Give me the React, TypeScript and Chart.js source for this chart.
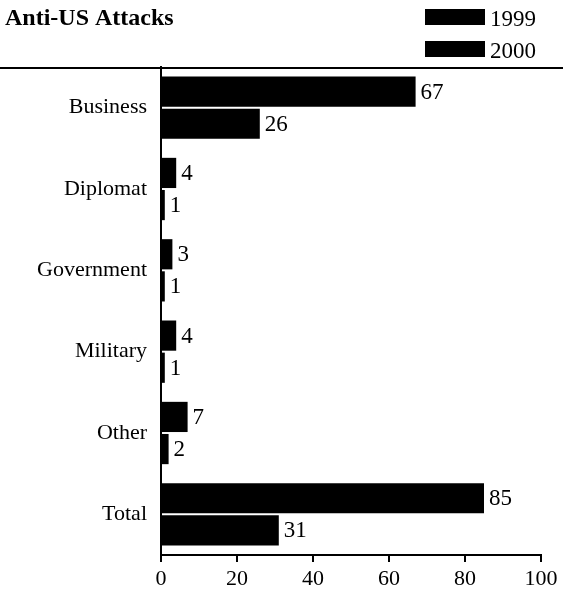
import React, { useEffect, useRef } from "react";
import { Chart, registerables } from "chart.js";

Chart.register(...registerables);

const categories = ["Business", "Diplomat", "Government", "Military", "Other", "Total"];
const values1999 = [67, 4, 3, 4, 7, 85];
const values2000 = [26, 1, 1, 1, 2, 31];
const seriesLabels = ["1999", "2000"];
const xTicks = [0, 20, 40, 60, 80, 100];
const titleText = "Anti-US Attacks";

const SERIF = "'Liberation Serif', 'Times New Roman', serif";

const decorPlugin = {
  id: "decor",
  afterDraw(chart: any) {
    const ctx = chart.ctx;
    ctx.save();
    // title
    ctx.fillStyle = "#000";
    ctx.font = `bold 24px ${SERIF}`;
    ctx.textBaseline = "alphabetic";
    ctx.textAlign = "left";
    ctx.fillText(titleText, 5, 25);
    // legend
    ctx.font = `23px ${SERIF}`;
    seriesLabels.forEach((lab, i) => {
      const y = 9 + i * 32;
      ctx.fillStyle = "#000";
      ctx.fillRect(425, y, 60, 16);
      ctx.fillText(lab, 490, y + 17);
    });
    // rule
    ctx.strokeStyle = "#000";
    ctx.lineWidth = 2;
    ctx.beginPath();
    ctx.moveTo(0, 68);
    ctx.lineTo(chart.width, 68);
    ctx.stroke();
    // value labels
    ctx.font = `23px ${SERIF}`;
    ctx.textBaseline = "middle";
    ctx.textAlign = "left";
    chart.data.datasets.forEach((ds: any, di: number) => {
      const meta = chart.getDatasetMeta(di);
      meta.data.forEach((bar: any, i: number) => {
        ctx.fillText(String(ds.data[i]), bar.x + 5, bar.y + 1);
      });
    });
    ctx.restore();
  },
};

export default function App() {
  const ref = useRef<HTMLCanvasElement | null>(null);
  useEffect(() => {
    document.body.style.margin = "0";
    const chart = new Chart(ref.current!, {
      type: "bar",
      data: {
        labels: categories,
        datasets: [
          { label: seriesLabels[0], data: values1999, backgroundColor: "#000" },
          { label: seriesLabels[1], data: values2000, backgroundColor: "#000" },
        ],
      },
      options: {
        indexAxis: "y",
        animation: false,
        responsive: false,
        maintainAspectRatio: false,
        layout: { padding: { top: 67, right: 22, left: 0, bottom: 0 } },
        datasets: { bar: { categoryPercentage: 0.79, barPercentage: 0.94 } } as any,
        plugins: { legend: { display: false }, title: { display: false }, tooltip: { enabled: false } },
        scales: {
          x: {
            min: 0,
            max: 100,
            afterFit: (s: any) => { s.height = 42; },
            afterBuildTicks: (s: any) => { s.ticks = xTicks.map((v) => ({ value: v })); },
            grid: { display: true, drawOnChartArea: false, drawTicks: true, tickLength: 7, color: "#000", lineWidth: 2 },
            border: { display: true, color: "#000", width: 2 },
            ticks: { color: "#000", font: { family: SERIF, size: 22 }, padding: 4, maxRotation: 0 },
          },
          y: {
            afterFit: (s: any) => { s.width = 161; },
            grid: { display: false, drawTicks: false },
            border: { display: true, color: "#000", width: 2 },
            ticks: { color: "#000", font: { family: SERIF, size: 22 }, padding: 14 },
          },
        },
      },
      plugins: [decorPlugin],
    });
    return () => chart.destroy();
  }, []);
  return <canvas ref={ref} width={563} height={597} style={{ display: "block" }} />;
}
